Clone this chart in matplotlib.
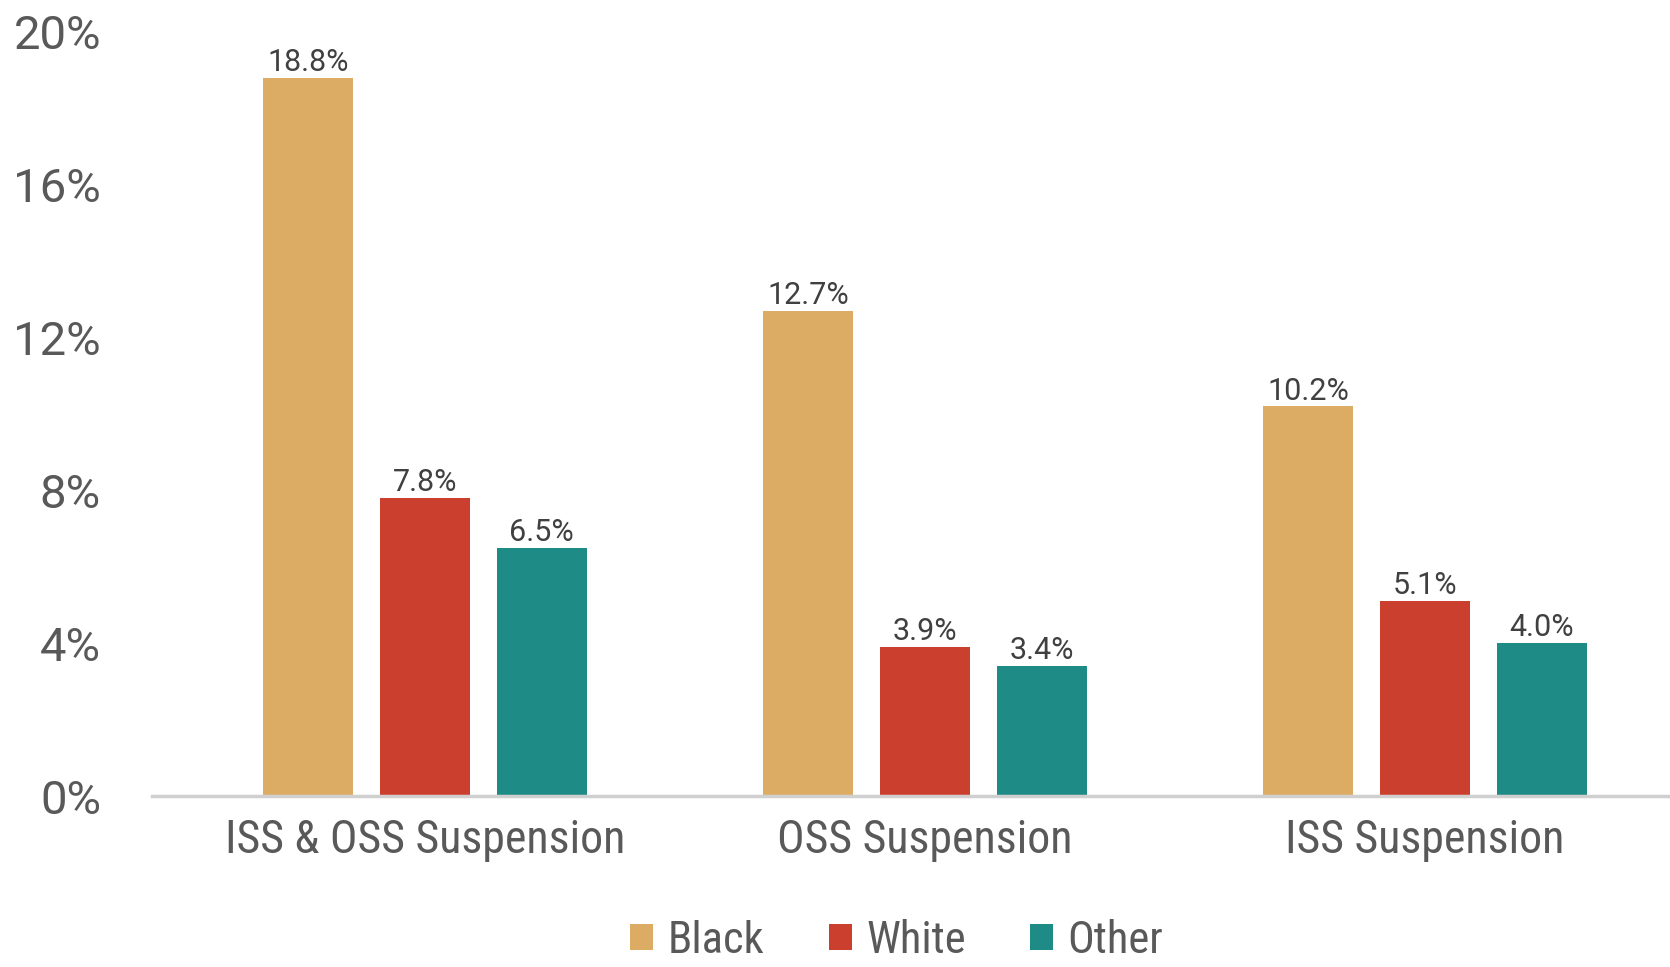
import numpy as np
import matplotlib.pyplot as plt
from matplotlib.ticker import FuncFormatter

# suspension rates by race
categories = ['ISS & OSS Suspension', 'OSS Suspension', 'ISS Suspension']
groups = ['Black', 'White', 'Other']
black = [18.8, 12.7, 10.2]
white = [7.8, 3.9, 5.1]
other = [6.5, 3.4, 4.0]
yticks = [0, 4, 8, 12, 16, 20]

colors = ['#DDAC64', '#CB3F2E', '#1F8B86']
text_grey = '#595959'
narrow = ['Roboto Condensed', 'Liberation Sans Narrow', 'DejaVu Sans']
plain = ['Roboto', 'DejaVu Sans']

fig = plt.figure(figsize=(16.7, 9.67), dpi=100)
ax = fig.add_axes([0.0912, 0.1768, 0.9088, 0.7902])

x = np.arange(len(categories))
width = 0.181
step = 0.234
series = [black, white, other]
for i, (vals, name) in enumerate(zip(series, groups)):
    bars = ax.bar(x + (i - 1) * step, vals, width, color=colors[i], label=name, zorder=2)
    for b, v in zip(bars, vals):
        ax.text(b.get_x() + b.get_width() / 2, v + 0.02, f'{v:.1f}%',
                ha='center', va='bottom', fontsize=22, color='#404040',
                family=plain)

ax.set_xlim(-0.545, 2.49)
ax.set_ylim(0, 20)
ax.set_yticks(yticks)
ax.yaxis.set_major_formatter(FuncFormatter(lambda v, p: f'{v:.0f}%'))
ax.set_xticks(x)
ax.set_xticklabels(categories)

for lab in ax.get_yticklabels():
    lab.set_family(plain)
    lab.set_fontsize(34)
    lab.set_color(text_grey)
for lab in ax.get_xticklabels():
    lab.set_family(narrow)
    lab.set_fontsize(33)
    lab.set_color(text_grey)

ax.tick_params(axis='y', length=0, pad=37)
ax.tick_params(axis='x', length=0, pad=16)
for s in ['top', 'right', 'left']:
    ax.spines[s].set_visible(False)
ax.spines['bottom'].set_color('#D0D0D0')
ax.spines['bottom'].set_linewidth(2.5)

fig.legend(loc='lower center', bbox_to_anchor=(0.537, -0.036), ncol=3, frameon=False,
           prop={'family': narrow, 'size': 32}, labelcolor=text_grey,
           handlelength=0.52, handleheight=0.52, handletextpad=0.32, columnspacing=1.45)

fig.savefig('out.png', dpi=100)
